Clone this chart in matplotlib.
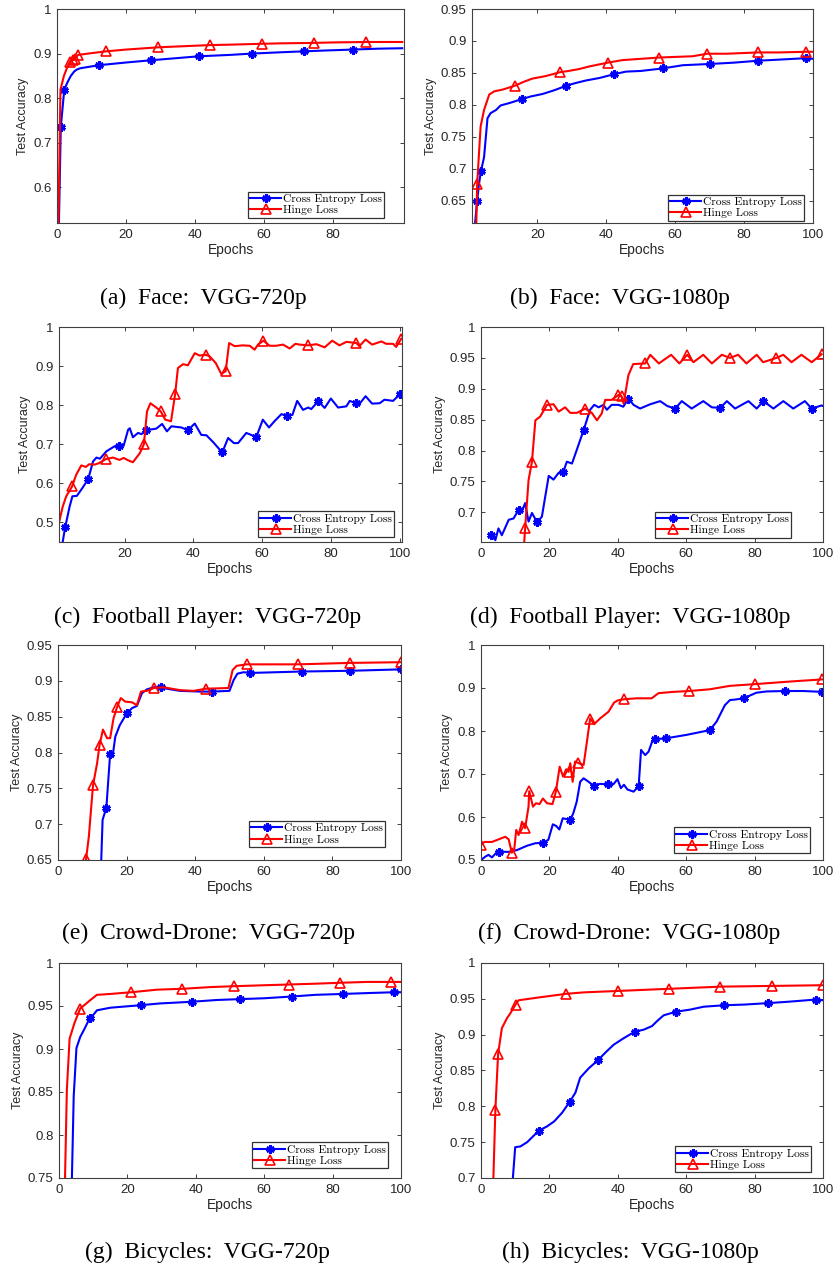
import numpy as np
import matplotlib
matplotlib.use("Agg")
import matplotlib.pyplot as plt
from matplotlib.ticker import FuncFormatter

# (a) Face: VGG-720p
a_ce_ep = [0, 1.1, 2.1, 3, 4, 5, 5.7, 6.7, 9, 12.2, 20, 27.2, 35, 41.2, 50, 56.5, 65, 71.4, 78, 85.6, 93, 100]
a_ce_acc = [0.30, 0.735, 0.819, 0.835, 0.850, 0.860, 0.864, 0.867, 0.870, 0.874, 0.880, 0.885, 0.890, 0.894, 0.897,
            0.900, 0.903, 0.905, 0.907, 0.909, 0.911, 0.912]
a_ce_mk = [1.1, 2.1, 12.2, 27.2, 41.2, 56.5, 71.4, 85.6]
a_hl_ep = [0, 1, 2, 3, 3.9, 4.5, 5.2, 6.1, 9, 14.2, 20, 29.2, 35, 44.2, 50, 59.4, 65, 74.3, 80, 89.5, 100]
a_hl_acc = [0.30, 0.819, 0.850, 0.870, 0.881, 0.885, 0.888, 0.897, 0.900, 0.905, 0.909, 0.914, 0.916, 0.919, 0.920,
            0.922, 0.923, 0.924, 0.925, 0.926, 0.926]
a_hl_mk = [3.9, 4.5, 5.2, 6.1, 14.2, 29.2, 44.2, 59.4, 74.3, 89.5]

# (b) Face: VGG-1080p
b_ce_ep = [1, 1.9, 2.5, 3, 3.6, 4.5, 5.5, 6.4, 8, 9.3, 12, 15.5, 18, 21.5, 25, 28.4, 31, 34, 38, 42.3, 45.7, 50,
           56.4, 62.2, 70.2, 77, 84, 91, 97.9, 100]
b_ce_acc = [0.55, 0.615, 0.65, 0.675, 0.696, 0.718, 0.779, 0.787, 0.792, 0.799, 0.803, 0.809, 0.813, 0.817, 0.823,
            0.830, 0.834, 0.838, 0.842, 0.848, 0.852, 0.853, 0.857, 0.862, 0.864, 0.866, 0.869, 0.871, 0.873, 0.872]
b_ce_mk = [2.5, 3.6, 15.5, 28.4, 42.3, 56.4, 70.2, 84, 97.9]
b_hl_ep = [1, 2, 2.5, 3.5, 4.5, 6, 7.4, 10, 13.5, 16, 18.5, 22.4, 26.5, 29, 32.1, 35, 40.4, 44.7, 50, 55.2, 60, 65,
           69.3, 75, 84, 90, 97.9, 100]
b_hl_acc = [0.45, 0.55, 0.676, 0.766, 0.792, 0.816, 0.821, 0.824, 0.830, 0.836, 0.841, 0.845, 0.851, 0.853, 0.856,
            0.860, 0.866, 0.870, 0.872, 0.874, 0.875, 0.876, 0.880, 0.880, 0.882, 0.882, 0.883, 0.883]
b_hl_mk = [2.5, 13.5, 26.5, 40.4, 55.2, 69.3, 84, 97.9]

# (c) Football Player: VGG-720p
c_ce_ep = [1, 2.7, 4, 4.8, 6.1, 7.7, 9.4, 10.8, 11.8, 12.8, 14.7, 17.1, 18.5, 19.7, 21, 21.5, 22.4, 23.9, 24.9,
           26.3, 29.2, 30.9, 32.3, 33.6, 36.5, 38.4, 40.4, 42.3, 43.8, 45.7, 48.4, 50.1, 51.8, 53, 55.4, 56.8, 58.3,
           60.2, 62, 63.6, 65.6, 67.2, 68.8, 70.2, 71.9, 73.4, 74.3, 76.3, 78.2, 80, 82.1, 84.5, 85.5, 87.2, 88.3,
           90.1, 92, 94.2, 95.6, 98.1, 100.2]
c_ce_acc = [0.40, 0.488, 0.541, 0.567, 0.568, 0.588, 0.611, 0.656, 0.666, 0.663, 0.682, 0.695, 0.696, 0.696, 0.737,
            0.741, 0.718, 0.729, 0.726, 0.736, 0.740, 0.752, 0.733, 0.746, 0.743, 0.736, 0.753, 0.724, 0.723, 0.706,
            0.679, 0.716, 0.703, 0.703, 0.729, 0.724, 0.718, 0.763, 0.743, 0.759, 0.777, 0.773, 0.775, 0.811, 0.788,
            0.794, 0.790, 0.810, 0.793, 0.817, 0.794, 0.797, 0.811, 0.805, 0.803, 0.823, 0.804, 0.805, 0.814, 0.811,
            0.829]
c_ce_mk = [2.7, 9.4, 18.5, 26.3, 38.4, 48.4, 58.3, 67.2, 76.3, 87.2, 100.2]
c_hl_ep = [0.9, 2, 3, 4.7, 5.9, 7.4, 8.7, 9.7, 11.3, 12.6, 14.5, 16.6, 18.5, 19.7, 21, 22.4, 24.4, 25.6, 26.5, 27.5,
           29.2, 30.5, 31.8, 33.5, 34.7, 35.5, 37, 38.4, 40.4, 41.8, 43.6, 44.7, 46.5, 48.1, 49.4, 50.4, 52, 54.4,
           56.4, 57.8, 58.8, 60.4, 62.2, 64.1, 66.1, 68, 69.7, 70.9, 73.3, 75.8, 78.2, 80.4, 82.5, 84.5, 87.4, 88.3,
           90.1, 92, 94.7, 96.1, 98.1, 99, 100.5]
c_hl_acc = [0.5, 0.541, 0.567, 0.592, 0.622, 0.646, 0.642, 0.649, 0.648, 0.652, 0.662, 0.666, 0.660, 0.665, 0.659,
            0.654, 0.677, 0.700, 0.784, 0.805, 0.794, 0.784, 0.763, 0.759, 0.829, 0.895, 0.905, 0.902, 0.933, 0.927,
            0.929, 0.925, 0.908, 0.880, 0.887, 0.959, 0.951, 0.953, 0.952, 0.942, 0.955, 0.965, 0.952, 0.952, 0.955,
            0.945, 0.957, 0.955, 0.953, 0.956, 0.948, 0.965, 0.953, 0.962, 0.959, 0.951, 0.968, 0.955, 0.963, 0.957,
            0.957, 0.949, 0.970]
c_hl_mk = [4.7, 14.5, 25.6, 30.5, 34.7, 43.6, 49.4, 60.4, 73.3, 87.4, 100.5]

# (d) Football Player: VGG-1080p
d_ce_ep = [2.9, 4.2, 5.1, 6.1, 8.1, 9.5, 11, 12, 12.9, 13.9, 14.9, 16.4, 17.8, 19.8, 21.2, 22.7, 24.1, 25.1, 26.6,
           28, 30, 31.9, 33.1, 34.4, 35.8, 36.8, 38.2, 40.2, 41.6, 43.1, 44.6, 46.5, 49.5, 52.4, 54.5, 56.8, 58.7,
           61.6, 65, 67.5, 69.9, 71.9, 74.3, 78.2, 80.6, 82.6, 85.5, 88.4, 91.3, 94.7, 96.7, 99.6, 100]
d_ce_acc = [0.663, 0.655, 0.674, 0.663, 0.688, 0.690, 0.704, 0.702, 0.715, 0.685, 0.699, 0.684, 0.693, 0.759, 0.753,
            0.764, 0.766, 0.782, 0.779, 0.801, 0.833, 0.866, 0.874, 0.870, 0.874, 0.866, 0.874, 0.874, 0.871, 0.884,
            0.874, 0.868, 0.875, 0.880, 0.872, 0.868, 0.880, 0.868, 0.880, 0.870, 0.869, 0.880, 0.868, 0.880, 0.868,
            0.880, 0.868, 0.880, 0.868, 0.880, 0.868, 0.873, 0.872]
d_ce_mk = [2.9, 11, 16.4, 24.1, 30, 43.1, 56.8, 69.9, 82.6, 96.7]
d_hl_ep = [12.5, 12.9, 13.9, 14.9, 15.9, 17.3, 19.3, 21.2, 22.7, 24.6, 26.1, 28, 30.5, 32.4, 33.9, 35.3, 36.3, 38.2,
           40.2, 41.1, 41.7, 43.1, 44.5, 48, 49.5, 52, 55.6, 58, 60.3, 62.1, 65, 67.5, 70.4, 72.8, 75.2, 77.6, 80.6,
           82.5, 86.4, 88.4, 90.8, 93.7, 96.7, 99.6]
d_hl_acc = [0.640, 0.674, 0.752, 0.782, 0.849, 0.855, 0.874, 0.875, 0.863, 0.870, 0.861, 0.861, 0.868, 0.861, 0.849,
            0.860, 0.882, 0.882, 0.890, 0.888, 0.876, 0.922, 0.940, 0.941, 0.955, 0.941, 0.955, 0.941, 0.955, 0.943,
            0.955, 0.941, 0.955, 0.950, 0.955, 0.941, 0.955, 0.943, 0.950, 0.955, 0.943, 0.955, 0.943, 0.956]
d_hl_mk = [12.9, 14.9, 19.3, 30.5, 40.2, 41.1, 48, 60.3, 72.8, 86.4, 99.6]

# (e) Crowd-Drone: VGG-720p
e_ce_ep = [12.4, 13, 14.1, 14.8, 15.2, 15.9, 16.7, 18, 20.1, 21.6, 23, 24.5, 25.9, 27.9, 30.1, 31.7, 35.6, 41.5, 45,
           50, 51.2, 52.3, 54.1, 56, 71.1, 85, 100]
e_ce_acc = [0.62, 0.706, 0.723, 0.771, 0.798, 0.794, 0.822, 0.838, 0.855, 0.862, 0.865, 0.883, 0.888, 0.891, 0.892,
            0.889, 0.886, 0.885, 0.885, 0.886, 0.901, 0.910, 0.912, 0.911, 0.913, 0.914, 0.916]
e_ce_mk = [14.1, 15.2, 20.1, 30.1, 45, 56, 71.1, 85, 100]
e_hl_ep = [7.5, 8.2, 9, 10.2, 11.4, 12.1, 13.1, 14.3, 15.2, 16.2, 17.2, 18.3, 19.6, 21.6, 23, 24.2, 25.9, 28, 30.8,
           35.6, 39.5, 43.1, 49.7, 50.9, 52.1, 55, 69.9, 85, 100]
e_hl_acc = [0.62, 0.652, 0.683, 0.754, 0.785, 0.810, 0.832, 0.820, 0.820, 0.848, 0.863, 0.876, 0.871, 0.870, 0.866,
            0.885, 0.886, 0.890, 0.891, 0.887, 0.886, 0.889, 0.890, 0.915, 0.921, 0.923, 0.923, 0.925, 0.926]
e_hl_mk = [8.2, 10.2, 12.1, 17.2, 28, 43.1, 55, 69.9, 85, 100]

# (f) Crowd-Drone: VGG-1080p
f_ce_ep = [0, 1.3, 2.2, 3.2, 4.5, 5.2, 8.1, 10.5, 13.4, 15.9, 18.1, 19.7, 21, 22, 22.9, 23.9, 25.1, 26.1, 27, 28,
           29, 30, 31.1, 32.9, 34.8, 37, 38.7, 39.9, 40.9, 41.8, 42.8, 44.6, 46.1, 46.8, 48, 49, 50.2, 50.9, 54.1,
           60.1, 66.9, 68.9, 71.3, 72.8, 74.2, 76.8, 80.5, 83.5, 88.8, 94.2, 99.8]
f_ce_acc = [0.500, 0.508, 0.512, 0.506, 0.517, 0.519, 0.519, 0.523, 0.533, 0.539, 0.540, 0.547, 0.583, 0.579, 0.571,
            0.597, 0.595, 0.593, 0.609, 0.636, 0.682, 0.690, 0.684, 0.673, 0.677, 0.676, 0.676, 0.688, 0.667, 0.675,
            0.664, 0.659, 0.671, 0.756, 0.744, 0.752, 0.779, 0.781, 0.783, 0.791, 0.802, 0.822, 0.860, 0.872, 0.873,
            0.876, 0.889, 0.892, 0.893, 0.893, 0.891]
f_ce_mk = [5.2, 18.1, 26.1, 32.9, 37, 46.1, 50.9, 54.1, 66.9, 76.8, 88.8, 99.8]
f_hl_ep = [0, 1, 3.2, 7.1, 8.1, 9, 9.7, 10.3, 11, 12, 12.9, 13.9, 14.1, 15.2, 16.1, 17.1, 18.1, 19.3, 20.9, 21.9, 23,
           24, 24.9, 25.6, 26.1, 26.8, 27.5, 28.3, 30, 30.9, 31.9, 33.1, 34.8, 37.3, 38.9, 39.9, 41.9, 45.5, 49.9,
           51.9, 56.2, 60.9, 66.9, 72.8, 80.1, 90.3, 99.8]
f_hl_acc = [0.535, 0.542, 0.542, 0.554, 0.548, 0.517, 0.523, 0.570, 0.558, 0.589, 0.574, 0.624, 0.660, 0.624, 0.632,
            0.630, 0.643, 0.632, 0.630, 0.659, 0.717, 0.694, 0.711, 0.705, 0.725, 0.682, 0.729, 0.726, 0.721, 0.771,
            0.829, 0.816, 0.829, 0.845, 0.866, 0.871, 0.874, 0.876, 0.876, 0.888, 0.891, 0.893, 0.897, 0.905, 0.909,
            0.915, 0.920]
f_hl_mk = [0, 9, 12.9, 14.1, 21.9, 25.6, 28.3, 31.9, 41.9, 60.9, 80.1, 99.8]

# (g) Bicycles: VGG-720p
g_ce_ep = [3.5, 4.3, 5.1, 6.2, 7.4, 9, 10.1, 11.1, 15, 24.1, 29.6, 34.5, 39, 46.2, 53, 60, 68, 75, 83, 90, 98, 100]
g_ce_acc = [0.70, 0.845, 0.901, 0.914, 0.923, 0.936, 0.940, 0.945, 0.948, 0.951, 0.953, 0.954, 0.955, 0.957, 0.958,
            0.959, 0.961, 0.963, 0.964, 0.965, 0.966, 0.966]
g_ce_mk = [9, 24.1, 39, 53, 68, 83, 98]
g_hl_ep = [1.5, 2.3, 3.1, 4.5, 6.2, 7.7, 9.2, 11.1, 15, 21.1, 28.7, 36.1, 44.3, 51.1, 58.9, 67.3, 75.4, 82.1, 90,
           97.1, 100]
g_hl_acc = [0.70, 0.853, 0.912, 0.930, 0.947, 0.952, 0.957, 0.963, 0.964, 0.966, 0.969, 0.970, 0.972, 0.973, 0.974,
            0.975, 0.976, 0.977, 0.978, 0.978, 0.978]
g_hl_mk = [6.2, 21.1, 36.1, 51.1, 67.3, 82.1, 97.1]

# (h) Bicycles: VGG-1080p
h_ce_ep = [9, 10, 11.5, 13.5, 16.9, 19.3, 21.4, 23.7, 25.9, 27.6, 29, 31.5, 34.1, 36.8, 38.8, 41.7, 44.9, 47.6, 50,
           51.5, 53.4, 57, 61.2, 65.1, 71, 77, 83.9, 90, 97.9, 100]
h_ce_acc = [0.68, 0.743, 0.744, 0.750, 0.766, 0.772, 0.779, 0.791, 0.806, 0.819, 0.840, 0.853, 0.864, 0.877, 0.886,
            0.895, 0.904, 0.907, 0.912, 0.919, 0.927, 0.932, 0.935, 0.939, 0.941, 0.942, 0.944, 0.946, 0.949, 0.948]
h_ce_mk = [16.9, 25.9, 34.1, 44.9, 57, 71, 83.9, 97.9]
h_hl_ep = [3.5, 4.2, 5, 6.1, 7.6, 8.6, 10.1, 11, 17, 24.9, 30, 40, 55, 70, 85, 100]
h_hl_acc = [0.68, 0.795, 0.873, 0.909, 0.923, 0.930, 0.942, 0.948, 0.952, 0.957, 0.959, 0.961, 0.964, 0.967, 0.968,
            0.969]
h_hl_mk = [4.2, 5, 10.1, 24.9, 40, 55, 70, 85, 100]

captions = ["(a)  Face:  VGG-720p", "(b)  Face:  VGG-1080p",
            "(c)  Football Player:  VGG-720p", "(d)  Football Player:  VGG-1080p",
            "(e)  Crowd-Drone:  VGG-720p", "(f)  Crowd-Drone:  VGG-1080p",
            "(g)  Bicycles:  VGG-720p", "(h)  Bicycles:  VGG-1080p"]

W, H = 834, 1268
# pixel boxes: left, top, right, bottom
boxes = [(57, 9, 404, 223), (472, 9, 813, 223),
         (59, 327, 402, 542), (481, 327, 823, 542),
         (58, 645, 401, 860), (481, 645, 823, 860),
         (59, 963, 401, 1178), (481, 963, 823, 1178)]
ylims = [(0.52, 1), (0.615, 0.95), (0.45, 1), (0.652, 1), (0.65, 0.95), (0.5, 1), (0.75, 1), (0.7, 1)]
ysteps = [0.1, 0.05, 0.1, 0.05, 0.05, 0.1, 0.05, 0.05]
xlims = [(0, 100.5), (1, 100), (0.9, 100.7), (0, 100), (0, 100), (0, 100), (0, 100), (0, 100)]
xtick_sets = [[0, 20, 40, 60, 80], [20, 40, 60, 80, 100], [20, 40, 60, 80, 100]] + [[0, 20, 40, 60, 80, 100]] * 5
cap_pos = [(203, 298), (620, 298), (208, 617), (630, 617), (208, 933), (629, 933), (207, 1252), (630, 1252)]
leg_corner = [(384, 217.7), (804, 220.7), (394, 537.3), (791, 537.7), (385, 847), (810, 853.3), (388, 1168.3),
              (811, 1172.3)]

series = [(a_ce_ep, a_ce_acc, a_ce_mk, a_hl_ep, a_hl_acc, a_hl_mk),
          (b_ce_ep, b_ce_acc, b_ce_mk, b_hl_ep, b_hl_acc, b_hl_mk),
          (c_ce_ep, c_ce_acc, c_ce_mk, c_hl_ep, c_hl_acc, c_hl_mk),
          (d_ce_ep, d_ce_acc, d_ce_mk, d_hl_ep, d_hl_acc, d_hl_mk),
          (e_ce_ep, e_ce_acc, e_ce_mk, e_hl_ep, e_hl_acc, e_hl_mk),
          (f_ce_ep, f_ce_acc, f_ce_mk, f_hl_ep, f_hl_acc, f_hl_mk),
          (g_ce_ep, g_ce_acc, g_ce_mk, g_hl_ep, g_hl_acc, g_hl_mk),
          (h_ce_ep, h_ce_acc, h_ce_mk, h_hl_ep, h_hl_acc, h_hl_mk)]

dark = '#262626'
plt.rcParams['font.family'] = ['Liberation Sans', 'DejaVu Sans']

fig = plt.figure(figsize=(W / 100, H / 100), dpi=100)

for i, (ce_ep, ce_acc, ce_mk, hl_ep, hl_acc, hl_mk) in enumerate(series):
    l, t, r, b = boxes[i]
    ax = fig.add_axes([l / W, 1 - b / H, (r - l) / W, (b - t) / H])

    ce_idx = [ce_ep.index(m) for m in ce_mk]
    hl_idx = [hl_ep.index(m) for m in hl_mk]
    ax.plot(ce_ep, ce_acc, color='#0000ff', lw=1.5, marker=(6, 2, 0), ms=6, mew=2.0,
            markevery=ce_idx, label='Cross Entropy Loss')
    ax.plot(hl_ep, hl_acc, color='#ff0000', lw=1.5, marker='^', ms=7, mew=1.2, mfc='none',
            markevery=hl_idx, label='Hinge Loss')

    ax.set_xlim(*xlims[i])
    ax.set_ylim(*ylims[i])
    ax.set_xticks(xtick_sets[i])
    lo, hi = ylims[i]
    st = ysteps[i]
    yt = np.arange(np.ceil(lo / st - 1e-6) * st, hi + 1e-6, st)
    ax.set_yticks(yt)
    ax.yaxis.set_major_formatter(FuncFormatter(lambda v, p: f'{round(v, 3):g}'))

    ax.tick_params(direction='in', top=True, right=True, length=3, width=0.7, colors='#404040',
                   labelcolor=dark, labelsize=9.5, pad=4)
    for s in ax.spines.values():
        s.set_color('#404040')
        s.set_linewidth(0.8)

    ax.set_xlabel('Epochs', fontsize=10, color=dark, labelpad=2)
    ax.set_ylabel('Test Accuracy', fontsize=9, color=dark, labelpad=3)

    lx, ly = leg_corner[i]
    anchor = ((lx - l) / (r - l), (b - ly) / (b - t))
    leg = ax.legend(loc='lower right', bbox_to_anchor=anchor, borderaxespad=0, fancybox=False,
                    numpoints=1, handlelength=2.7, handletextpad=0.15, labelspacing=0.12, borderpad=0.2,
                    prop={'family': 'cmr10', 'size': 8.3})
    leg.get_frame().set_edgecolor('#333333')
    leg.get_frame().set_linewidth(0.9)
    leg.get_frame().set_alpha(1)

    cx, cy = cap_pos[i]
    fig.text(cx / W, 1 - cy / H, captions[i], ha='center', va='center', fontsize=17,
             family=['Liberation Serif', 'DejaVu Serif'], color='black')

fig.savefig('out.png', dpi=100)
